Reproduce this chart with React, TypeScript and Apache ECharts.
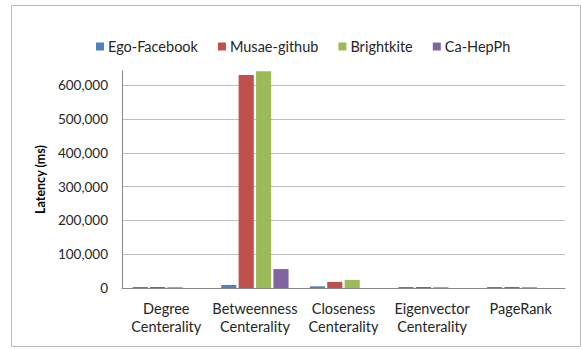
import React, { useEffect, useRef } from "react";
import * as echarts from "echarts";

const categories = [
  "Degree\nCenterality",
  "Betweenness\nCenterality",
  "Closeness\nCenterality",
  "Eigenvector\nCenterality",
  "PageRank",
];

const seriesNames = ["Ego-Facebook", "Musae-github", "Brightkite", "Ca-HepPh"];
const egoFacebook = [3000, 9000, 5000, 3000, 3000];
const musaeGithub = [3000, 630000, 18000, 3000, 3000];
const brightkite = [3000, 641000, 24000, 3000, 3000];
const caHepPh = [0, 56000, 0, 0, 0];

const seriesColors = ["#4F81BD", "#C0504D", "#9BBB59", "#8064A2"];

const FONT = "Lato, 'Open Sans', sans-serif";

export default function App() {
  const ref = useRef<HTMLDivElement>(null);

  useEffect(() => {
    if (!ref.current) return;
    const chart = echarts.init(ref.current, undefined, { renderer: "svg" });
    const values = [egoFacebook, musaeGithub, brightkite, caHepPh];

    chart.setOption({
      animation: false,
      backgroundColor: "#ffffff",
      graphic: [
        {
          type: "rect",
          shape: { x: 11.5, y: 5.5, width: 569, height: 341 },
          style: { fill: "none", stroke: "#BDBDBD", lineWidth: 1 },
          silent: true,
        },
      ],
      legend: {
        top: 34,
        left: 91,
        itemWidth: 8,
        itemHeight: 8,
        itemGap: 20,
        icon: "rect",
        textStyle: { fontFamily: FONT, fontSize: 14.5, color: "#262626", padding: [0, 0, 0, -1] },
        data: seriesNames,
      },
      grid: { left: 122, right: 17, top: 71, bottom: 61 },
      xAxis: {
        type: "category",
        data: categories,
        axisTick: { show: false },
        axisLine: { lineStyle: { color: "#888888", width: 1 } },
        axisLabel: {
          fontFamily: FONT,
          fontSize: 14.5,
          color: "#262626",
          lineHeight: 18,
          margin: 11,
          interval: 0,
        },
      },
      yAxis: {
        type: "value",
        min: 0,
        max: 642000,
        interval: 100000,
        name: "Latency (ms)",
        nameLocation: "middle",
        nameGap: 73,
        nameRotate: 90,
        nameTextStyle: { fontFamily: FONT, fontSize: 12.5, fontWeight: "bold", color: "#000000" },
        axisLine: { show: true, lineStyle: { color: "#888888", width: 1 } },
        axisTick: { show: false },
        axisLabel: {
          fontFamily: FONT,
          fontSize: 13.5,
          color: "#262626",
          margin: 14,
          showMaxLabel: false,
          formatter: (v: number) => v.toLocaleString("en-US"),
        },
        splitLine: { show: true, showMaxLine: false, lineStyle: { color: "#BEBEBE", width: 1 } },
      },
      series: seriesNames.map((name, i) => ({
        name,
        type: "bar",
        data: values[i],
        barGap: "15%",
        barCategoryGap: "24%",
        itemStyle: { color: seriesColors[i] },
      })),
    });

    return () => chart.dispose();
  }, []);

  return (
    <div
      ref={ref}
      style={{ position: "fixed", left: 0, top: 0, width: 582, height: 349 }}
    />
  );
}
